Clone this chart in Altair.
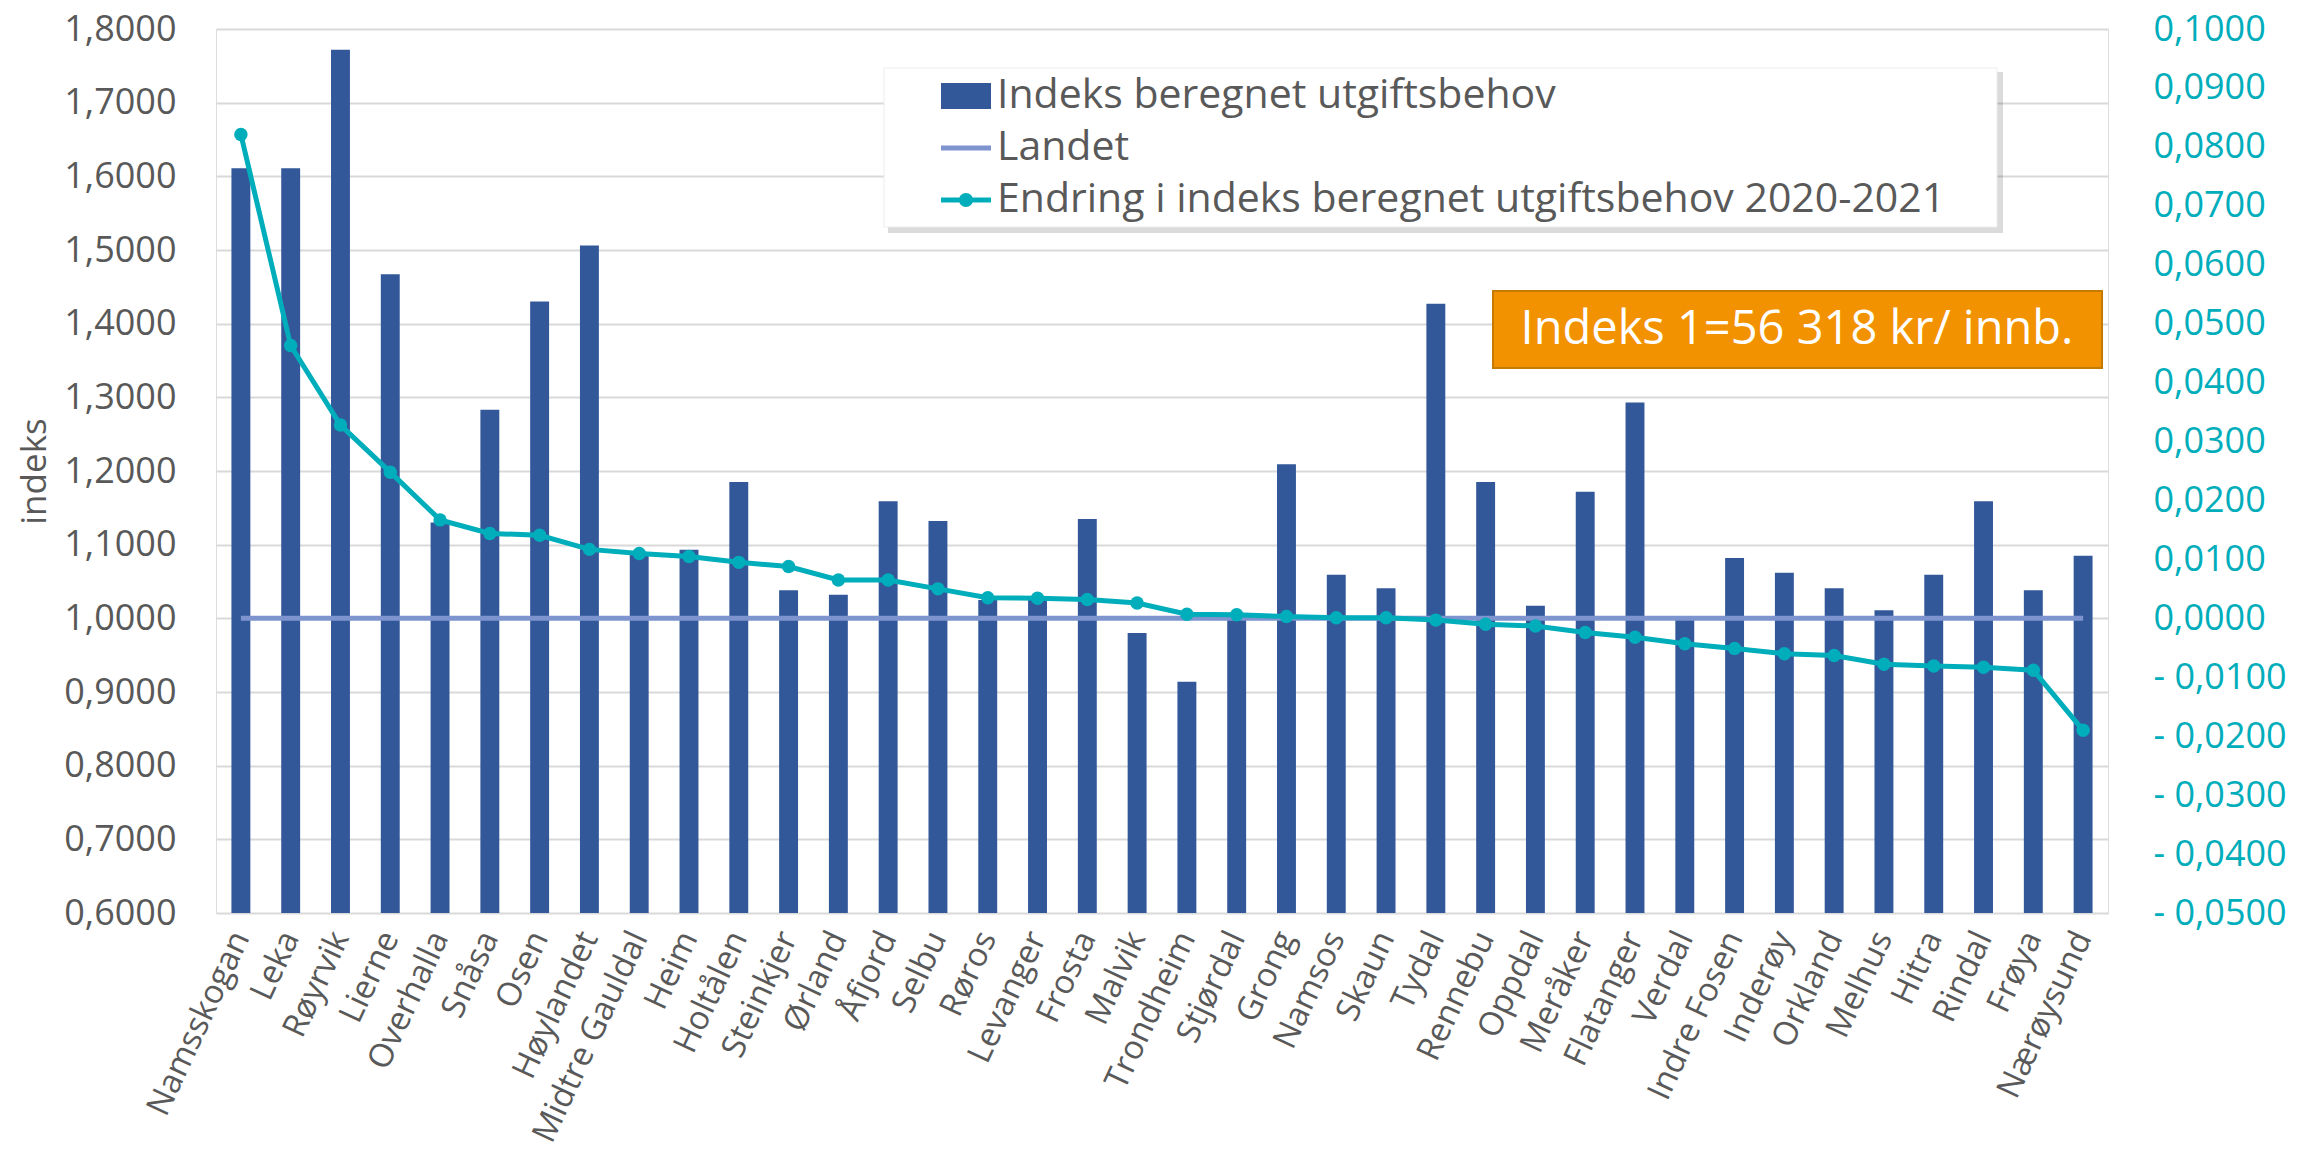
import altair as alt
import pandas as pd

# ---------------- data ----------------
kommuner = ["Namsskogan", "Leka", "Røyrvik", "Lierne", "Overhalla", "Snåsa", "Osen",
            "Høylandet", "Midtre Gauldal", "Heim", "Holtålen", "Steinkjer", "Ørland",
            "Åfjord", "Selbu", "Røros", "Levanger", "Frosta", "Malvik", "Trondheim",
            "Stjørdal", "Grong", "Namsos", "Skaun", "Tydal", "Rennebu", "Oppdal",
            "Meråker", "Flatanger", "Verdal", "Indre Fosen", "Inderøy", "Orkland",
            "Melhus", "Hitra", "Rindal", "Frøya", "Nærøysund"]
indeks = [1.611, 1.611, 1.772, 1.467, 1.130, 1.283, 1.430, 1.506, 1.088, 1.093,
          1.185, 1.038, 1.032, 1.159, 1.132, 1.025, 1.025, 1.135, 0.980, 0.914,
          0.999, 1.209, 1.059, 1.041, 1.427, 1.185, 1.017, 1.172, 1.293, 1.003,
          1.082, 1.062, 1.041, 1.011, 1.059, 1.159, 1.038, 1.085]
endring = [0.0821, 0.0463, 0.0328, 0.0248, 0.0167, 0.0144, 0.0141, 0.0117, 0.0110, 0.0105,
           0.0095, 0.0088, 0.0065, 0.0065, 0.0050, 0.0035, 0.0034, 0.0032, 0.0026, 0.0007,
           0.0006, 0.0003, 0.0001, 0.0001, -0.0003, -0.0010, -0.0013, -0.0024, -0.0032, -0.0043,
           -0.0051, -0.0060, -0.0063, -0.0078, -0.0081, -0.0083, -0.0088, -0.0190]
landet = 1.0
serier = ["Indeks beregnet utgiftsbehov", "Landet",
          "Endring i indeks beregnet utgiftsbehov 2020-2021"]
venstre_ticks = [0.6, 0.7, 0.8, 0.9, 1.0, 1.1, 1.2, 1.3, 1.4, 1.5, 1.6, 1.7, 1.8]
hoyre_ticks = [-0.05, -0.04, -0.03, -0.02, -0.01, 0.0, 0.01, 0.02, 0.03, 0.04,
               0.05, 0.06, 0.07, 0.08, 0.09, 0.1]
boks_tekst = "Indeks 1=56 318 kr/ innb."

# ---------------- style ----------------
FONT = "Open Sans"
BAR = "#33589A"
LANDET_C = "#7D94CF"
TEAL = "#00ADBB"
GREY = "#595959"
W, H = 1892, 884

df = pd.DataFrame({"nr": list(range(len(kommuner))), "kommune": kommuner,
                   "indeks": indeks, "endring": endring})
base = alt.Chart(df)

x = alt.X("kommune:N", sort=kommuner,
          scale=alt.Scale(paddingInner=0.62, paddingOuter=0.31),
          axis=alt.Axis(title=None, labelAngle=295, labelAlign="right",
                        labelBaseline="middle", labelPadding=20, labelFontSize=33,
                        labelColor=GREY, labelFont=FONT, labelLimit=600,
                        labelOverlap=False, ticks=False, domain=False, grid=False))

yl_scale = alt.Scale(domain=[0.6, 1.8], zero=False, nice=False)
yl_axis = alt.Axis(orient="left", values=venstre_ticks,
                   labelExpr="replace(format(datum.value, '.4f'), '.', ',')",
                   labelFontSize=36, labelColor=GREY, labelFont=FONT, labelPadding=40,
                   ticks=False, domain=False, grid=True, gridColor="#D9D9D9", gridWidth=2,
                   title="indeks", titleFont=FONT, titleFontSize=35,
                   titleFontWeight="normal", titleColor=GREY, titlePadding=11)

bars = base.mark_bar(color=BAR).encode(
    x=x, y=alt.Y("indeks:Q", scale=yl_scale, axis=yl_axis), y2=alt.datum(0.6))

landet_line = base.mark_line(color=LANDET_C, strokeWidth=5).encode(
    x=x, y=alt.datum(landet), order="nr:Q")

one = pd.DataFrame({"k": [0]})
shadow = alt.Chart(one).mark_rect(color="#000000", opacity=0.14).encode(
    x=alt.value(672), x2=alt.value(1787), y=alt.value(43), y2=alt.value(204))
box = alt.Chart(one).mark_rect(fill="white", stroke="#EDEDED", strokeWidth=1).encode(
    x=alt.value(668), x2=alt.value(1781), y=alt.value(39), y2=alt.value(198))
orange = alt.Chart(one).mark_rect(fill="#F39200", stroke="#C57A00", strokeWidth=2).encode(
    x=alt.value(1277), x2=alt.value(1886), y=alt.value(262), y2=alt.value(339))
otext = alt.Chart(one).mark_text(text=boks_tekst, font=FONT, fontSize=47, color="white",
                                 align="center", baseline="middle").encode(
    x=alt.value(1581), y=alt.value(301))

path_bar = "M-1,-0.52H1V0.52H-1Z"
path_line = "M-1,-0.1H1V0.1H-1Z"
path_dot = ("M-1,-0.1H-0.24V0.1H-1Z M0.24,-0.1H1V0.1H0.24Z "
            "M-0.28,0A0.28,0.28 0 1,1 0.28,0A0.28,0.28 0 1,1 -0.28,0Z")

leg = alt.Legend(title=None, orient="none", legendX=725, legendY=42,
                 labelFontSize=41, labelFont=FONT, labelColor=GREY,
                 symbolSize=2500, symbolStrokeWidth=0, labelOffset=6, rowPadding=7,
                 padding=0, labelLimit=2000, symbolOpacity=1, direction="vertical")
leg_df = pd.DataFrame({"serie": serier})
legend_layer = alt.Chart(leg_df).mark_point(filled=True, clip=True).encode(
    x=alt.value(-3000), y=alt.value(-3000),
    color=alt.Color("serie:N", scale=alt.Scale(domain=serier, range=[BAR, LANDET_C, TEAL]),
                    legend=leg),
    shape=alt.Shape("serie:N", scale=alt.Scale(domain=serier,
                                               range=[path_bar, path_line, path_dot]),
                    legend=leg))

left = alt.layer(bars, landet_line, shadow, box, orange, otext, legend_layer)

yr_scale = alt.Scale(domain=[-0.05, 0.1], zero=False, nice=False)
yr_axis = alt.Axis(orient="right", values=hoyre_ticks,
                   labelExpr="datum.value < -0.00001 ? '- ' + replace(format(-datum.value, '.4f'), '.', ',') : replace(format(abs(datum.value), '.4f'), '.', ',')",
                   labelFontSize=36, labelColor=TEAL, labelFont=FONT, labelPadding=45,
                   labelAlign="left", ticks=False, domain=False, grid=False, title=None)
yr = alt.Y("endring:Q", scale=yr_scale, axis=yr_axis)
teal_line = base.mark_line(color=TEAL, strokeWidth=5).encode(x=x, y=yr, order="nr:Q")
teal_pts = base.mark_point(filled=True, color=TEAL, size=180, opacity=1).encode(x=x, y=yr)
right = alt.layer(teal_line, teal_pts)

chart = alt.layer(left, right).resolve_scale(y="independent").properties(
    width=W, height=H,
    autosize=alt.AutoSizeParams(type="none"),
    padding={"left": 208, "top": 21, "right": 184, "bottom": 238},
).configure_view(stroke=None).configure(font=FONT, background="white")

chart.save("out.html", embed_options={"renderer": "svg", "actions": False})
